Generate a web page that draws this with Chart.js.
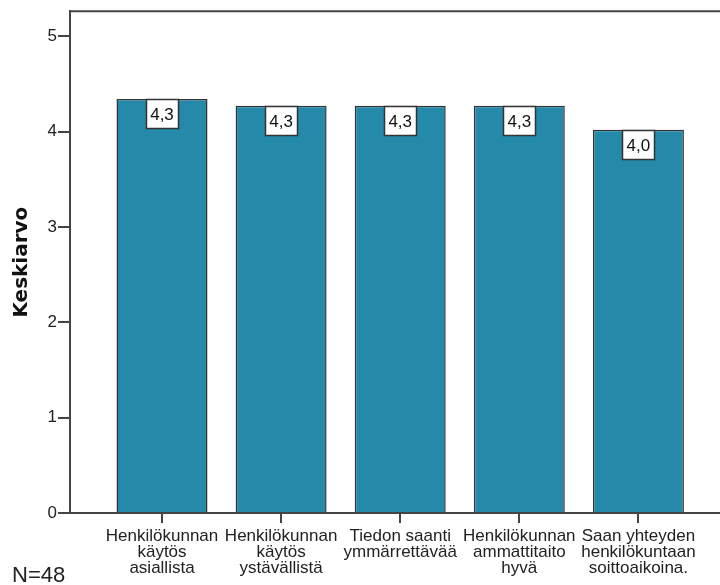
<!DOCTYPE html>
<html>
<head>
<meta charset="utf-8">
<script src="https://cdn.jsdelivr.net/npm/chart.js@4"></script>
<style>
  html, body { margin: 0; padding: 0; background: #fff; }
  canvas { display: block; }
</style>
</head>
<body>
<canvas id="barChart" width="720" height="585"></canvas>
<script>
// categories (multi-line labels as in the original)
const categories = [
    ['Henkilökunnan', 'käytös', 'asiallista'],
    ['Henkilökunnan', 'käytös', 'ystävällistä'],
    ['Tiedon saanti', 'ymmärrettävää'],
    ['Henkilökunnan', 'ammattitaito', 'hyvä'],
    ['Saan yhteyden', 'henkilökuntaan', 'soittoaikoina.']
];
const means = [4.34, 4.27, 4.27, 4.27, 4.02];
const yTicks = [0, 1, 2, 3, 4, 5];
const sampleNote = 'N=48';

const barColor = '#2589aa';
const lineColor = '#444';

// value boxes at the top of each bar, "4,3" style
const valueBoxes = {
    id: 'valueBoxes',
    afterDatasetsDraw(chart) {
        const ctx = chart.ctx;
        const meta = chart.getDatasetMeta(0);
        ctx.save();
        ctx.font = '17px "Liberation Sans", Arial, sans-serif';
        ctx.textAlign = 'center';
        ctx.textBaseline = 'middle';
        meta.data.forEach(function (bar, i) {
            const txt = means[i].toFixed(1).replace('.', ',');
            const w = Math.round(ctx.measureText(txt).width + 8);
            const h = 29;
            const x = Math.round(bar.x - w / 2) + 0.5;
            const y = Math.round(bar.y) + 0.5;
            ctx.fillStyle = '#fff';
            ctx.fillRect(x, y, w, h);
            ctx.strokeStyle = '#333';
            ctx.lineWidth = 1.5;
            ctx.strokeRect(x, y, w, h);
            ctx.fillStyle = '#111';
            ctx.fillText(txt, bar.x, y + h / 2 + 1);
        });
        ctx.restore();
    }
};

// top frame line and the N note
const frame = {
    id: 'frame',
    afterDraw(chart) {
        const ctx = chart.ctx;
        const area = chart.chartArea;
        ctx.save();
        ctx.strokeStyle = lineColor;
        ctx.lineWidth = 2;
        ctx.beginPath();
        ctx.moveTo(area.left - 1, area.top);
        ctx.lineTo(chart.width, area.top);
        ctx.stroke();
        ctx.fillStyle = '#222';
        ctx.font = '22px "Liberation Sans", Arial, sans-serif';
        ctx.textAlign = 'left';
        ctx.textBaseline = 'alphabetic';
        ctx.fillText(sampleNote, 12, 582);
        ctx.restore();
    }
};

Chart.defaults.font.family = '"Liberation Sans", Arial, sans-serif';
Chart.defaults.color = '#222';

const ctx = document.getElementById('barChart').getContext('2d');

new Chart(ctx, {
    type: 'bar',
    data: {
        datasets: [{
            data: means.map((v, i) => ({ x: i, y: v })),
            backgroundColor: barColor,
            borderColor: '#333',
            borderWidth: 1.5,
            borderSkipped: 'start',
            barPercentage: 0.764,
            categoryPercentage: 1
        }]
    },
    options: {
        responsive: false,
        animation: false,
        layout: { padding: { top: 11, right: 0, left: 0, bottom: 0 } },
        plugins: {
            legend: { display: false },
            tooltip: { enabled: false }
        },
        scales: {
            x: {
                type: 'linear',
                offset: false,
                min: -0.7725,
                max: 4.685,
                afterBuildTicks: (scale) => {
                    scale.ticks = categories.map((c, i) => ({ value: i }));
                },
                afterFit: (scale) => { scale.height = 72; },
                grid: {
                    offset: false,
                    drawOnChartArea: false,
                    drawTicks: true,
                    tickLength: 10,
                    color: lineColor,
                    lineWidth: 2
                },
                border: { color: lineColor, width: 2 },
                ticks: {
                    autoSkip: false,
                    maxRotation: 0,
                    padding: 5,
                    color: '#222',
                    font: { size: 17, lineHeight: '16px' },
                    callback: (v) => categories[v]
                }
            },
            y: {
                min: 0,
                max: 5.262,
                afterBuildTicks: (scale) => {
                    scale.ticks = yTicks.map(v => ({ value: v }));
                },
                afterFit: (scale) => { scale.width = 70; },
                grid: {
                    drawOnChartArea: false,
                    drawTicks: true,
                    tickLength: 12,
                    color: lineColor,
                    lineWidth: 2
                },
                border: { color: lineColor, width: 2 },
                ticks: {
                    padding: 1,
                    color: '#222',
                    font: { size: 17 }
                },
                title: {
                    display: true,
                    text: 'Keskiarvo',
                    color: '#111',
                    padding: { top: 10, bottom: 0 },
                    font: { family: '"DejaVu Sans", sans-serif', size: 20, weight: 'bold', lineHeight: 1.2 }
                }
            }
        }
    },
    plugins: [valueBoxes, frame]
});
</script>
</body>
</html>
